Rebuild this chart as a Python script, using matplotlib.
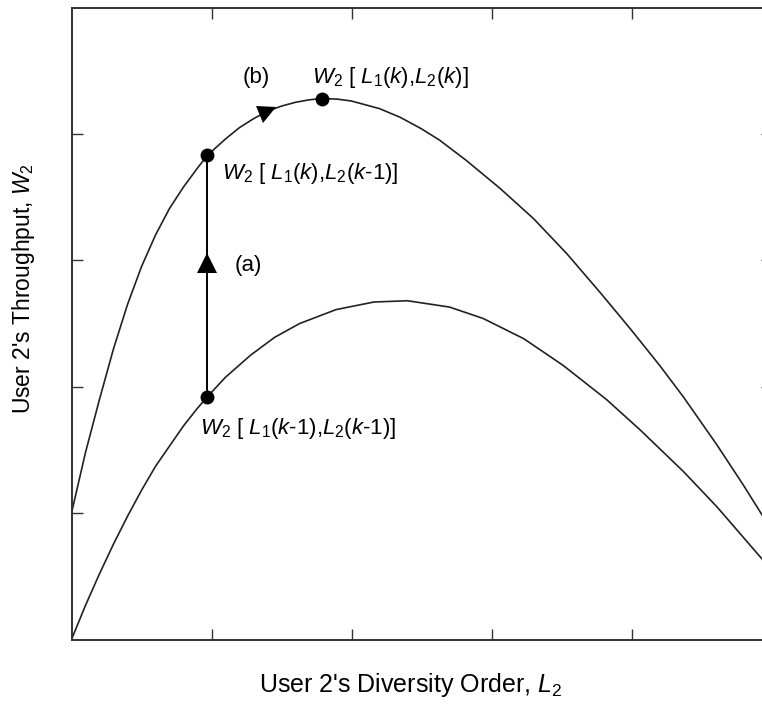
import matplotlib
matplotlib.use("Agg")
import matplotlib.pyplot as plt
from matplotlib.markers import MarkerStyle
from matplotlib.transforms import Affine2D

plt.rcParams["font.family"] = ["Liberation Sans", "DejaVu Sans"]
plt.rcParams["mathtext.fontset"] = "custom"
plt.rcParams["mathtext.rm"] = "Liberation Sans"
plt.rcParams["mathtext.it"] = "Liberation Sans:italic"

# throughput curves, W2 versus L2
upper_L2 = [0.0, 0.1, 0.2, 0.3, 0.4, 0.5, 0.6, 0.7, 0.8, 0.9, 0.97,
            1.1, 1.2, 1.3, 1.4, 1.5, 1.6, 1.7, 1.79, 1.9, 2.0, 2.2, 2.35,
            2.5, 2.63, 2.82, 3.06, 3.30, 3.54, 3.78, 3.99, 4.2, 4.37, 4.61,
            4.8, 4.93, 5.0]
upper_W2 = [1.00, 1.48, 1.90, 2.30, 2.65, 2.95, 3.20, 3.41, 3.58, 3.73, 3.83,
            3.96, 4.05, 4.12, 4.18, 4.22, 4.25, 4.27, 4.28, 4.275, 4.26, 4.20, 4.13,
            4.04, 3.95, 3.79, 3.57, 3.33, 3.05, 2.74, 2.46, 2.17, 1.92, 1.54,
            1.22, 0.99, 0.86]

lower_L2 = [0.0, 0.1, 0.2, 0.3, 0.4, 0.5, 0.6, 0.7, 0.8, 0.9, 0.97,
            1.1, 1.28, 1.45, 1.63, 1.89, 2.16, 2.40, 2.70, 2.94, 3.23,
            3.51, 3.82, 4.06, 4.37, 4.61, 4.93, 5.0]
lower_W2 = [0.0, 0.27, 0.52, 0.755, 0.975, 1.18, 1.37, 1.53, 1.69, 1.83, 1.92,
            2.075, 2.25, 2.39, 2.50, 2.61, 2.67, 2.68, 2.63, 2.54, 2.38,
            2.17, 1.90, 1.66, 1.33, 1.05, 0.64, 0.55]

# iteration points
step_L2 = 0.97
start_W2 = 1.92       # W2[L1(k-1), L2(k-1)]
mid_W2 = 3.83         # W2[L1(k), L2(k-1)]
peak_L2, peak_W2 = 1.79, 4.28   # W2[L1(k), L2(k)]
arrow_a = (0.97, 2.98)
arrow_b = (1.40, 4.18)

fig = plt.figure(figsize=(7.62, 7.05), dpi=100)
ax = fig.add_axes([71.5 / 762, (705 - 639.5) / 705, 700 / 762, 632 / 705])

ax.plot(upper_L2, upper_W2, color="#222222", lw=1.2)
ax.plot(lower_L2, lower_W2, color="#222222", lw=1.2)

ax.plot([step_L2, step_L2], [start_W2, mid_W2], color="black", lw=1.4)
ax.plot(*arrow_a, marker="^", color="black", ms=14, mew=0)
tri_b = MarkerStyle(">", transform=Affine2D().rotate_deg(24))
ax.plot(*arrow_b, marker=tri_b, color="black", ms=13, mew=0)

ax.plot([step_L2, step_L2, peak_L2], [start_W2, mid_W2, peak_W2],
        "o", color="black", ms=10, mew=0, zorder=5)

fs = 16
ax.text(0.918, 1.67, "$W_2$ [ $L_1$($k$-1),$L_2$($k$-1)]",
        fontsize=fs, va="center", ha="left")
ax.text(1.075, 3.69, "$W_2$ [ $L_1$($k$),$L_2$($k$-1)]",
        fontsize=fs, va="center", ha="left")
ax.text(1.72, 4.45, "$W_2$ [ $L_1$($k$),$L_2$($k$)]",
        fontsize=fs, va="center", ha="left")
ax.text(1.32, 4.45, "(b)", fontsize=fs, va="center", ha="center")
ax.text(1.264, 2.96, "(a)", fontsize=fs, va="center", ha="center")

ax.set_xlim(0, 5)
ax.set_ylim(0, 5)
ax.set_xticks([1, 2, 3, 4])
ax.set_yticks([1, 2, 3, 4])
ax.tick_params(direction="in", length=8, width=1, top=True, right=True,
               labelbottom=False, labelleft=False, color="#333333")
for s in ax.spines.values():
    s.set_linewidth(1.4)
    s.set_color("#333333")

ax.set_xlabel("User 2's Diversity Order, $L_2$", fontsize=18)
ax.set_ylabel("User 2's Throughput, $W_2$", fontsize=16.5)
ax.xaxis.set_label_coords(0.484, -0.05)
ax.yaxis.set_label_coords(-0.049, 0.555)

fig.savefig("out.png", dpi=100)
